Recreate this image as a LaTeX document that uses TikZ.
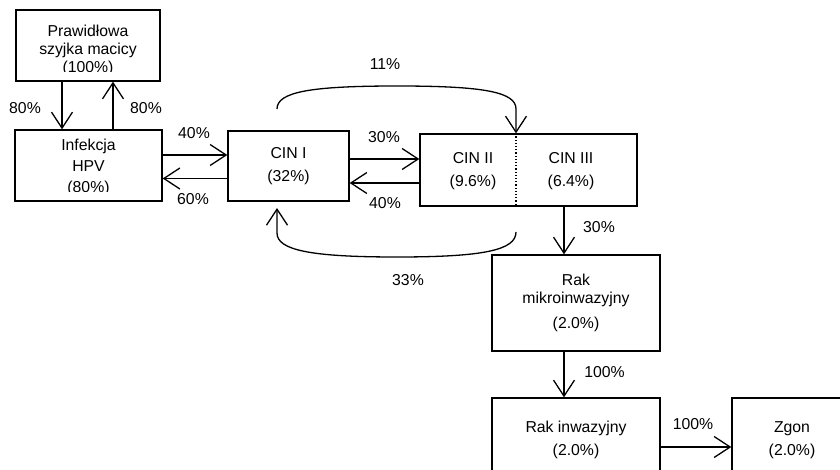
\documentclass[tikz,border=0pt]{standalone}
\usepackage{fontspec}
\setmainfont{Liberation Sans}
\usetikzlibrary{arrows.meta}

\tikzset{
  lbl/.style={inner sep=0pt,align=center},
  arr/.style={line width=1.3pt,-{Straight Barb[length=16pt,width=21pt]}},
}

\begin{document}
\begin{tikzpicture}[x=1pt,y=-1pt,font=\fontsize{15.8}{18}\selectfont]
            \useasboundingbox (0,0) rectangle (840,470);
            \begin{scope}[every node/.style={draw,line width=1.4pt,align=center,inner sep=0pt}]
                \node[minimum width=144pt,minimum height=71pt] (norm) at (88,45.5) {};
                \node[minimum width=147pt,minimum height=71pt] (hpv) at (88.5,165.5) {};
                \node[minimum width=121pt,minimum height=70pt] (cin1) at (288.5,166) {CIN I\\[5pt](32\%)};
                \node[minimum width=217pt,minimum height=72pt] (cin) at (528.5,170) {};
                \node[minimum width=168pt,minimum height=96pt] (micro) at (576,303) {Rak\\mikroinwazyjny\\[7pt](2.0\%)};
                \node[minimum width=168pt,minimum height=84pt] (inv) at (576,440) {Rak inwazyjny\\[5pt](2.0\%)};
                \node[minimum width=120pt,minimum height=84pt] (death) at (792,440) {Zgon\\[5pt](2.0\%)};
            \end{scope}
            % texts running past the bottom of their box
            \begin{scope}
                \clip (norm.north west) rectangle (norm.east |- 0,72);
                \node[lbl] (normtxt) at (88,50) {Prawidłowa\\szyjka macicy\\(100\%)};
            \end{scope}
            \begin{scope}
                \clip (hpv.north west) rectangle (hpv.east |- 0,191.5);
                \node[lbl] (hpvtxt) at (88.5,167) {Infekcja\\[3pt]HPV\\[3pt](80\%)};
            \end{scope}
            \node[lbl] (cin2) at (473,171) {CIN II\\[5pt](9.6\%)};
            \node[lbl] (cin3) at (571,171) {CIN III\\[5pt](6.4\%)};
            \coordinate (split) at (516,170);
            \draw[dotted,line width=1.2pt] (split |- cin.north) -- (split |- cin.south);
            % connectors
            \draw[arr] (norm.south -| 62,0) -- (hpv.north -| 62,0);
            \draw[arr] (hpv.north -| 113,0) -- (norm.south -| 113,0);
            \draw[arr] (hpv.east |- 0,155) -- (cin1.west |- 0,155);
            \draw[arr] (cin1.west |- 0,178.5) -- (hpv.east |- 0,178.5);
            \draw[arr] (cin1.east |- 0,159) -- (cin.west |- 0,159);
            \draw[arr] (cin.west |- 0,183) -- (cin1.east |- 0,183);
            \draw[arr] (cin.south -| 564,0) -- (micro.north -| 564,0);
            \draw[arr] (micro.south -| 564,0) -- (inv.north -| 564,0);
            \draw[arr] (inv.east |- 0,447) -- (death.west |- 0,447);
            % loops over the CIN boxes
            \coordinate (a11) at (277,109);
            \coordinate (a33) at (516,232);
            \coordinate (b33) at (277,208);
            \draw[arr] (a11) .. controls (277,92) and (310,86) .. (397,86)
                .. controls (484,86) and (516,92) .. (516,109) -- (split |- cin.north);
            \draw[arr] (a33) .. controls (516,250) and (484,257) .. (397,257)
                .. controls (310,257) and (277,250) .. (277,233) -- (b33);
            % rates
            \node[lbl] (r1) at (25,108) {80\%};
            \node[lbl] (r2) at (146,108) {80\%};
            \node[lbl] (r3) at (194,133) {40\%};
            \node[lbl] (r4) at (193,199) {60\%};
            \node[lbl] (r5) at (384,137) {30\%};
            \node[lbl] (r6) at (385,203) {40\%};
            \node[lbl] (r7) at (385,64) {11\%};
            \node[lbl] (r8) at (408,280) {33\%};
            \node[lbl] (r9) at (599,227) {30\%};
            \node[lbl] (r10) at (604.5,372) {100\%};
            \node[lbl] (r11) at (693,424) {100\%};
        \end{tikzpicture}
\end{document}
